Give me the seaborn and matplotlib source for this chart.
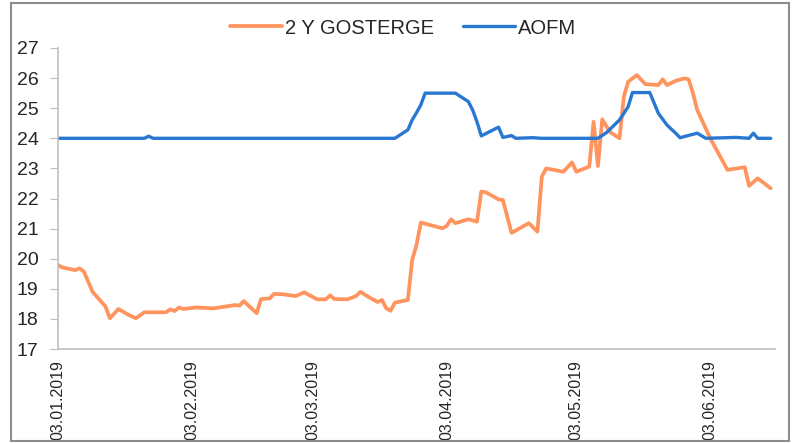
import pandas as pd
import matplotlib.pyplot as plt
import matplotlib.dates as mdates
import seaborn as sns
from matplotlib.patches import Rectangle

sns.set_style("white")
plt.rcParams["font.family"] = ["Liberation Sans", "DejaVu Sans"]

# 2 Y GOSTERGE (orange)
gosterge_dates = [
    "03.01", "04.01", "07.01", "08.01", "09.01", "11.01", "14.01", "15.01", "17.01", "19.01",
    "21.01", "23.01", "28.01", "29.01", "30.01", "31.01", "01.02", "04.02", "08.02", "13.02",
    "14.02", "15.02", "18.02", "19.02", "21.02", "22.02", "24.02", "27.02", "01.03", "04.03",
    "06.03", "07.03", "08.03", "11.03", "13.03", "14.03", "16.03", "18.03", "19.03", "20.03",
    "21.03", "22.03", "25.03", "26.03", "27.03", "28.03", "02.04", "03.04", "04.04", "05.04",
    "08.04", "10.04", "11.04", "12.04", "15.04", "16.04", "18.04", "22.04", "24.04", "25.04",
    "26.04", "30.04", "02.05", "03.05", "06.05", "07.05", "08.05", "09.05", "10.05", "11.05",
    "13.05", "14.05", "15.05", "17.05", "19.05", "22.05", "23.05", "24.05", "26.05", "28.05",
    "29.05", "30.05", "31.05", "03.06", "07.06", "11.06", "12.06", "14.06", "17.06",
]
gosterge_values = [
    19.79, 19.71, 19.62, 19.68, 19.57, 18.90, 18.41, 18.02, 18.33, 18.16,
    18.02, 18.22, 18.22, 18.32, 18.26, 18.38, 18.33, 18.38, 18.35, 18.46,
    18.44, 18.59, 18.19, 18.66, 18.68, 18.83, 18.82, 18.76, 18.88, 18.65,
    18.65, 18.78, 18.66, 18.65, 18.76, 18.90, 18.72, 18.56, 18.63, 18.35,
    18.27, 18.54, 18.63, 19.96, 20.46, 21.20, 21.01, 21.09, 21.31, 21.18,
    21.31, 21.23, 22.23, 22.21, 21.97, 21.95, 20.86, 21.18, 20.90, 22.72,
    23.00, 22.89, 23.20, 22.89, 23.06, 24.55, 23.08, 24.63, 24.39, 24.19,
    24.00, 25.38, 25.88, 26.10, 25.80, 25.77, 25.96, 25.77, 25.91, 25.99,
    25.96, 25.50, 24.94, 24.00, 22.95, 23.04, 22.42, 22.67, 22.34,
]

# AOFM (blue)
aofm_dates = [
    "03.01", "23.01", "24.01", "25.01", "22.03", "25.03", "26.03", "27.03", "28.03", "29.03",
    "05.04", "08.04", "09.04", "10.04", "11.04", "15.04", "16.04", "18.04", "19.04", "23.04",
    "25.04", "08.05", "10.05", "13.05", "15.05", "16.05", "20.05", "22.05", "24.05", "26.05",
    "27.05", "31.05", "02.06", "09.06", "12.06", "13.06", "14.06", "17.06",
]
aofm_values = [
    24.00, 24.00, 24.07, 24.00, 24.00, 24.28, 24.61, 24.85, 25.11, 25.50,
    25.50, 25.22, 24.94, 24.55, 24.08, 24.37, 24.03, 24.09, 24.00, 24.02,
    24.00, 24.00, 24.19, 24.61, 25.05, 25.52, 25.52, 24.83, 24.44, 24.17,
    24.02, 24.17, 24.00, 24.03, 24.00, 24.17, 24.00, 24.00,
]

y_ticks = list(range(17, 28))


def to_frame(dates, values):
    return pd.DataFrame({
        "date": pd.to_datetime([d + ".2019" for d in dates], format="%d.%m.%Y"),
        "value": values,
    })


df_g = to_frame(gosterge_dates, gosterge_values)
df_a = to_frame(aofm_dates, aofm_values)

fig = plt.figure(figsize=(7.99, 4.43), dpi=100)
ax = fig.add_axes([58 / 799, 1 - 349 / 443, 717 / 799, 301 / 443])

sns.lineplot(data=df_g, x="date", y="value", ax=ax, color="#FF945E", linewidth=2.7, label="2 Y GOSTERGE")
sns.lineplot(data=df_a, x="date", y="value", ax=ax, color="#2878D2", linewidth=2.4, label="AOFM")

ax.set_ylim(17, 27)
ax.set_yticks(y_ticks)
ax.set_xlim(pd.Timestamp("2019-01-03"), pd.Timestamp("2019-06-18"))
ax.xaxis.set_major_locator(mdates.MonthLocator(bymonthday=3))
ax.xaxis.set_major_formatter(mdates.DateFormatter("%d.%m.%Y"))
ax.set_xlabel("")
ax.set_ylabel("")

for side in ["top", "right"]:
    ax.spines[side].set_visible(False)
for side in ["left", "bottom"]:
    ax.spines[side].set_color("#BFBFBF")
    ax.spines[side].set_linewidth(1.2)

ax.tick_params(axis="y", which="major", left=True, length=6, color="#BFBFBF", labelsize=14, pad=8)
ax.tick_params(axis="x", which="major", length=0, labelsize=11.5, labelrotation=90, pad=8)
for lbl in ax.get_xticklabels():
    lbl.set_va("top")

ax.get_legend().remove()
handles, labels = ax.get_legend_handles_labels()
fig.legend(handles, labels, loc="center", bbox_to_anchor=(403 / 799, 1 - 28 / 443), ncol=2,
           frameon=False, fontsize=14.5, handlelength=2.6, handletextpad=0.15, columnspacing=1.4)

# outer chart border
fig.patches.append(Rectangle((11 / 799, 2 / 443), 778 / 799, 438 / 443, transform=fig.transFigure,
                             fill=False, edgecolor="#8C8C8C", linewidth=1.5))

fig.savefig("out.png", dpi=100)
